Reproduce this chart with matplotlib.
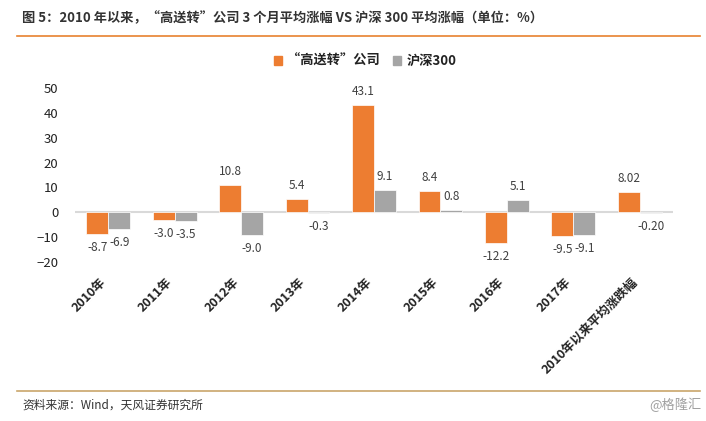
import matplotlib
matplotlib.use("Agg")
import matplotlib.pyplot as plt
import matplotlib.transforms as mtransforms
from matplotlib.patches import Patch
import numpy as np

plt.rcParams['font.family'] = ['Noto Sans CJK SC', 'DejaVu Sans']

categories = ['2010年', '2011年', '2012年', '2013年', '2014年', '2015年',
              '2016年', '2017年', '2010年以来平均涨跌幅']
gsz_values = [-8.7, -3.0, 10.8, 5.4, 43.1, 8.4, -12.2, -9.5, 8.02]
hs300_values = [-6.9, -3.5, -9.0, -0.3, 9.1, 0.8, 5.1, -9.1, -0.20]
gsz_labels = ['-8.7', '-3.0', '10.8', '5.4', '43.1', '8.4', '-12.2', '-9.5', '8.02']
hs300_labels = ['-6.9', '-3.5', '-9.0', '-0.3', '9.1', '0.8', '5.1', '-9.1', '-0.20']
series_names = ['“高送转”公司', '沪深300']
y_ticks = [-20, -10, 0, 10, 20, 30, 40, 50]

ORANGE = '#ED7D31'
GREY = '#A5A5A5'
TEXT = '#404040'

fig = plt.figure(figsize=(7.06, 4.21), dpi=100)
ax = fig.add_axes([75 / 706, 1 - 262 / 421, (673 - 75) / 706, (262 - 88) / 421])

x = np.arange(len(categories))
w = 0.33
b1 = ax.bar(x - w / 2, gsz_values, w, color=ORANGE, edgecolor='white', linewidth=0.5, zorder=3)
b2 = ax.bar(x + w / 2, hs300_values, w, color=GREY, edgecolor='white', linewidth=0.5, zorder=3)

for bars, labels in ((b1, gsz_labels), (b2, hs300_labels)):
    for rect, lab in zip(bars, labels):
        h = rect.get_height()
        cx = rect.get_x() + rect.get_width() / 2
        if h >= 0:
            ax.annotate(lab, (cx, h), xytext=(0, 5), textcoords='offset points',
                        ha='center', va='bottom', fontsize=8.5, color=TEXT)
        else:
            ax.annotate(lab, (cx, h), xytext=(0, -5), textcoords='offset points',
                        ha='center', va='top', fontsize=8.5, color=TEXT)

ax.axhline(0, color='#D9D9D9', linewidth=1.5, zorder=2)
ax.set_xlim(-0.5, len(categories) - 0.5)
ax.set_ylim(-20, 50)
ax.set_yticks(y_ticks)
ax.tick_params(axis='y', length=0, labelsize=9.5, labelcolor='#222222', pad=12)
ax.tick_params(axis='x', length=0)
for s in ax.spines.values():
    s.set_visible(False)

ax.set_xticks(x)
ax.set_xticklabels(categories, rotation=45, ha='right', rotation_mode='anchor',
                   fontsize=9, fontweight='bold', color='#222222')
offset = mtransforms.ScaledTranslation(-9 / 100, -9 / 100, fig.dpi_scale_trans)
for lbl in ax.get_xticklabels():
    lbl.set_transform(lbl.get_transform() + offset)

handles = [Patch(color=ORANGE), Patch(color=GREY)]
leg = fig.legend(handles, series_names, loc='center', bbox_to_anchor=(0.517, 1 - 61 / 421),
                 ncol=2, frameon=False, handlelength=0.6, handleheight=0.6,
                 handletextpad=0.4, columnspacing=1.0,
                 prop={'weight': 'bold', 'size': 9.5})
for t in leg.get_texts():
    t.set_color('#222222')

fig.text(22 / 706, 1 - 18 / 421,
         '图 5：2010 年以来，“高送转”公司 3 个月平均涨幅 VS 沪深 300 平均涨幅（单位：%）',
         ha='left', va='center', fontsize=9.5, fontweight='bold', color='#333333')
fig.add_artist(plt.Line2D([17 / 706, 700 / 706], [1 - 36 / 421, 1 - 36 / 421],
                          color='#E8822F', linewidth=1.2))
fig.add_artist(plt.Line2D([17 / 706, 700 / 706], [1 - 391 / 421, 1 - 391 / 421],
                          color='#C9A66B', linewidth=1.2))
fig.text(22 / 706, 1 - 405 / 421, '资料来源：Wind，天风证券研究所',
         ha='left', va='center', fontsize=8.5, color='#333333')
fig.text(702 / 706, 1 - 405 / 421, '@格隆汇',
         ha='right', va='center', fontsize=9.5, color='#A0A0A0')

fig.savefig('out.png', dpi=100)
